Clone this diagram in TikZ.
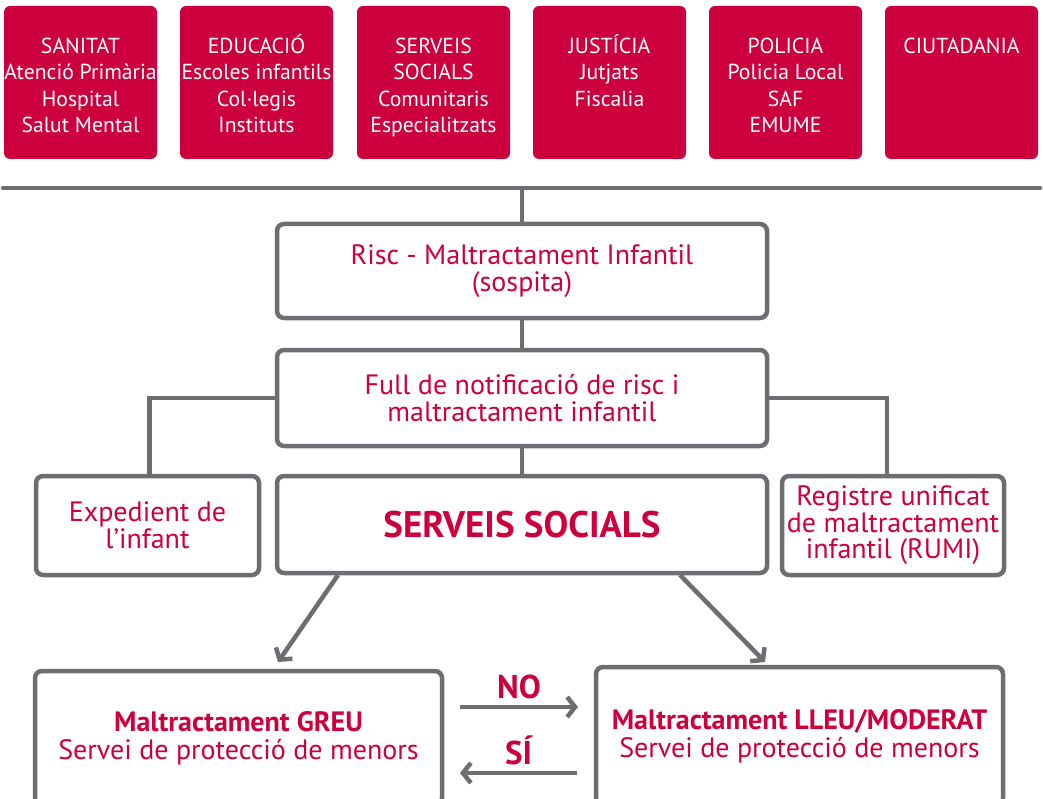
\documentclass[tikz,border=0pt]{standalone}
\usepackage{fontspec}
\setmainfont{PT Sans}
\usetikzlibrary{arrows.meta}
\definecolor{crim}{HTML}{CC003D}
\definecolor{lgray}{HTML}{6D6E71}
\tikzset{
  redbox/.style={fill=crim, rounded corners=6pt, inner sep=0pt, text=white,
    font=\fontsize{21.7}{26.5}\selectfont},
  graybox/.style={draw=lgray, line width=4.5pt, rounded corners=7pt, fill=white,
    text=crim, inner sep=0pt, align=center, font=\fontsize{28}{27}\selectfont},
  conn/.style={draw=lgray, line width=4.5pt},
  arr/.style={conn, -{Straight Barb[length=8pt,width=20pt,line width=4.5pt]}},
  lbl/.style={text=crim, font=\fontsize{33}{34}\selectfont\bfseries}
}
\newcommand\topbox[1]{\parbox[c][153pt][t]{153pt}{\centering\vspace*{28.5pt}#1}}
\begin{document}
\begin{tikzpicture}[x=1pt,y=-1pt]
\useasboundingbox (0,0) rectangle (1043,799);
\clip (0,0) rectangle (1043,799);
% top red boxes
\node[redbox] (san) at (80.5,82.5) {\topbox{\strut SANITAT\\Atenció Primària\\Hospital\\Salut Mental}};
\node[redbox] (edu) at (256.5,82.5) {\topbox{\strut EDUCACIÓ\\Escoles infantils\\Col·legis\\Instituts}};
\node[redbox] (ser) at (433.5,82.5) {\topbox{\strut SERVEIS\\SOCIALS\\Comunitaris\\Especialitzats}};
\node[redbox] (jus) at (609.5,82.5) {\topbox{\strut JUSTÍCIA\\Jutjats\\Fiscalia}};
\node[redbox] (pol) at (785.5,82.5) {\topbox{\strut POLICIA\\Policia Local\\SAF\\EMUME}};
\node[redbox] (ciu) at (961.5,82.5) {\topbox{\strut CIUTADANIA}};
% horizontal bar
\coordinate (hl) at (3,188);
\coordinate (hr) at (1040,188);
\draw[conn, line cap=round] (hl) -- (hr);
% gray boxes
\node[graybox, minimum width=490pt, minimum height=94pt] (risc) at (522,271) {Risc - Maltractament Infantil\\(sospita)};
\node[graybox, minimum width=490pt, minimum height=96pt] (full) at (522,398) {Full de notificació de risc i\\maltractament infantil};
\node[graybox, minimum width=223pt, minimum height=99pt] (exp) at (147.5,525.5) {Expedient de\\l’infant};
\node[graybox, minimum width=490pt, minimum height=97pt, font=\fontsize{37}{38}\selectfont\bfseries] (ss) at (522,524.5) {SERVEIS SOCIALS};
\node[graybox, minimum width=222pt, minimum height=99pt, font=\fontsize{28}{26.5}\selectfont] (rumi) at (893,525.5) {Registre unificat\\de maltractament\\infantil (RUMI)};
\node[graybox, minimum width=407pt, minimum height=134pt, font=\fontsize{28}{28}\selectfont] (greu) at (238.5,738) {{\bfseries Maltractament GREU}\\Servei de protecció de menors};
\node[graybox, minimum width=407pt, minimum height=138pt, font=\fontsize{28}{28}\selectfont] (lleu) at (799.5,736) {{\bfseries Maltractament LLEU/MODERAT}\\Servei de protecció de menors};
% connectors
\draw[conn] (risc.north) -- (risc.north |- hl);
\draw[conn] (risc.south) -- (full.north);
\draw[conn] (full.south) -- (ss.north);
\draw[conn] (full.west) -| ([xshift=2pt]exp.north);
\draw[conn] (full.east) -| ([xshift=-6pt]rumi.north);
\coordinate (a1s) at (338,575);
\coordinate (a1e) at (278,662);
\coordinate (a2s) at (680,575);
\coordinate (a2e) at (765,662);
\draw[arr] (a1s) -- (a1e);
\draw[arr] (a2s) -- (a2e);
\coordinate (nos) at (460,707);
\coordinate (noe) at (578,707);
\coordinate (sis) at (577,773);
\coordinate (sie) at (460,773);
\draw[arr] (nos) -- node[lbl, above=2pt] (no) {NO} (noe);
\draw[arr] (sis) -- node[lbl, above=2pt] (si) {SÍ} (sie);
\end{tikzpicture}
\end{document}
